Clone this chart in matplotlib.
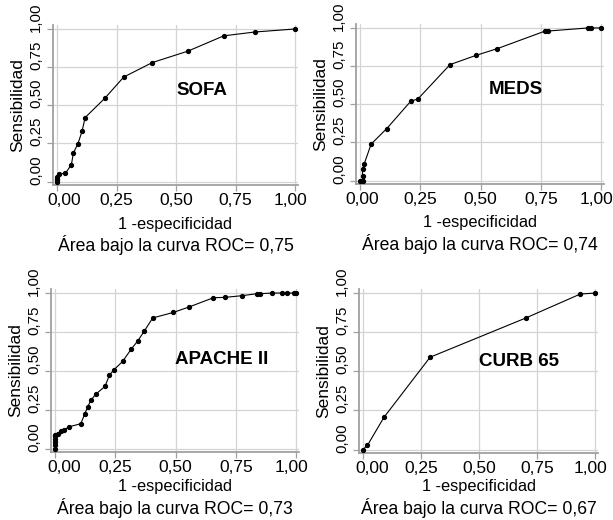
import numpy as np
import matplotlib
matplotlib.use('Agg')
import matplotlib.pyplot as plt
from matplotlib.transforms import ScaledTranslation

# %% data
tick_vals = [0, 0.25, 0.5, 0.75, 1.0]
tick_labels = ['0,00', '0,25', '0,50', '0,75', '1,00']

sofa_x = [0, 0, 0, 0, 0.008, 0.035, 0.06, 0.069, 0.087, 0.105, 0.118, 0.20, 0.28, 0.40, 0.55, 0.70, 0.83, 1.0]
sofa_y = [0, 0.01, 0.02, 0.03, 0.05, 0.055, 0.11, 0.19, 0.245, 0.33, 0.42, 0.545, 0.685, 0.78, 0.855, 0.955, 0.98, 1.0]

meds_x = [0, 0.01, 0.01, 0.01, 0.017, 0.046, 0.11, 0.21, 0.24, 0.373, 0.48, 0.57, 0.768, 0.78, 0.945, 0.96, 1.0]
meds_y = [0, 0, 0.03, 0.075, 0.11, 0.24, 0.34, 0.52, 0.535, 0.76, 0.82, 0.865, 0.98, 0.98, 1.0, 1.0, 1.0]

apache_x = [0, 0, 0, 0, 0, 0, 0.01, 0.023, 0.037, 0.058, 0.107, 0.122, 0.136, 0.148, 0.169,
            0.207, 0.225, 0.243, 0.28, 0.316, 0.342, 0.37, 0.405, 0.49, 0.555, 0.657, 0.703,
            0.776, 0.838, 0.852, 0.90, 0.943, 0.962, 0.99, 1.0]
apache_y = [0, 0.02, 0.04, 0.06, 0.08, 0.09, 0.092, 0.11, 0.12, 0.14, 0.16, 0.22, 0.27, 0.31, 0.35,
            0.40, 0.47, 0.505, 0.56, 0.64, 0.69, 0.755, 0.84, 0.875, 0.91, 0.97, 0.972,
            0.983, 0.996, 0.996, 1.0, 1.0, 1.0, 1.0, 1.0]

curb_x = [0, 0.019, 0.09, 0.289, 0.70, 0.936, 1.0]
curb_y = [0, 0.026, 0.205, 0.59, 0.84, 0.994, 1.0]

names = ['SOFA', 'MEDS', 'APACHE II', 'CURB 65']
auc_labels = ['0,75', '0,74', '0,73', '0,67']
name_pos = [(0.61, 0.60), (0.645, 0.60), (0.69, 0.57), (0.67, 0.56)]

# %%
W, H = 613, 520
plt.rcParams['font.family'] = ['Liberation Sans', 'DejaVu Sans']

fig = plt.figure(figsize=(W / 100, H / 100), dpi=100)

# axes boxes in pixels: left, right, top, bottom
boxes = [(53, 298, 25, 185), (356, 604, 24, 184), (51, 299, 289, 452), (359, 598, 289, 453)]
# text rows (pixel y from top): xlabel, caption
text_rows = [(224, 245), (223, 244), (487, 508), (487, 508)]
# how far the first x label is pushed right (px)
first_shift = [7, 2, 9, 9]
series = [(sofa_x, sofa_y), (meds_x, meds_y), (apache_x, apache_y), (curb_x, curb_y)]

spine_col = '#a0a0a0'
grid_col = '#d4d4d4'

for i in range(4):
    l, r, t, b = boxes[i]
    ax = fig.add_axes([l / W, 1 - b / H, (r - l) / W, (b - t) / H])
    xs, ys = series[i]
    ax.plot(xs, ys, color='black', lw=0.8, marker='o', markersize=2.8, zorder=3)

    ax.set_xlim(-0.017, 1.012)
    ax.set_ylim(-0.022, 1.026)
    ax.set_xticks(tick_vals)
    ax.set_xticklabels(tick_labels, fontsize=12.5)
    ax.set_yticks(tick_vals)
    ax.set_yticklabels(tick_labels, fontsize=10.8, rotation=90, va='bottom')
    ax.grid(True, color=grid_col, lw=0.9)
    ax.set_axisbelow(True)

    for s in ['top', 'right']:
        ax.spines[s].set_visible(False)
    for s in ['left', 'bottom']:
        ax.spines[s].set_color(spine_col)
        ax.spines[s].set_linewidth(1.3)
    ax.tick_params(axis='both', colors=spine_col, length=4, width=0.9, pad=2,
                   labelcolor='black')
    ax.tick_params(axis='y', pad=3)

    # y labels start a little under their tick; end x labels nudged inward
    for lab in ax.get_yticklabels():
        lab.set_transform(lab.get_transform() + ScaledTranslation(0, -3 / 100, fig.dpi_scale_trans))
    xl = ax.get_xticklabels()
    xl[-1].set_transform(xl[-1].get_transform() + ScaledTranslation(-5 / 100, 0, fig.dpi_scale_trans))
    xl[0].set_transform(xl[0].get_transform() + ScaledTranslation(first_shift[i] / 100, 0, fig.dpi_scale_trans))

    ax.set_ylabel('Sensibilidad', fontsize=12.5, labelpad=3)

    nx, ny = name_pos[i]
    ax.text(nx, ny, names[i], fontsize=13.5, fontweight='bold', ha='center', va='center')

    cx = (l + r) / 2
    fig.text(cx / W, 1 - text_rows[i][0] / H, '1 -especificidad', fontsize=11.8,
             ha='center', va='center')
    fig.text(cx / W, 1 - text_rows[i][1] / H, 'Área bajo la curva ROC= ' + auc_labels[i],
             fontsize=12.7, ha='center', va='center')

fig.savefig('out.png', dpi=100)
